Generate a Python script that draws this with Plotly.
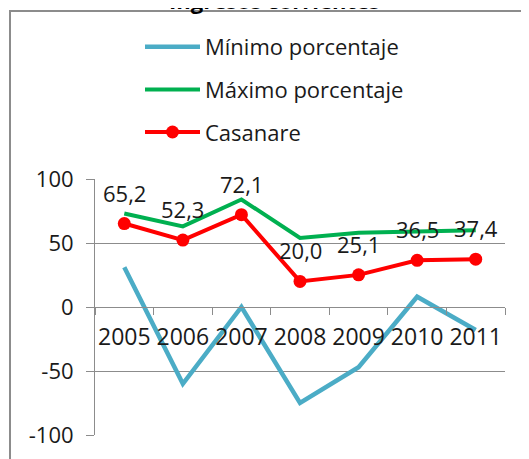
import plotly.graph_objects as go

years = ["2005", "2006", "2007", "2008", "2009", "2010", "2011"]
minimo = [31, -60, 0, -75, -47, 8, -18]
maximo = [73, 63, 84, 54, 58, 59, 60]
casanare = [65.2, 52.3, 72.1, 20.0, 25.1, 36.5, 37.4]
casanare_labels = ["65,2", "52,3", "72,1", "20,0", "25,1", "36,5", "37,4"]
ytick_vals = [-100, -50, 0, 50, 100]
ytick_text = ["-100", "-50", "0", "50", "100"]

FONT = "Open Sans"
GRID = "#8c8c8c"
TXT = "#1a1a1a"


def px(x):
    return (x - 95) / 410


def py(y):
    return (435 - y) / 256


fig = go.Figure()
fig.add_trace(go.Scatter(x=years, y=minimo, mode="lines", name="Mínimo porcentaje",
                         line=dict(color="#4BACC6", width=4.5), legendgroup="a"))
fig.add_trace(go.Scatter(x=years, y=maximo, mode="lines", name="Máximo porcentaje",
                         line=dict(color="#00B050", width=4), legendgroup="b"))
fig.add_trace(go.Scatter(x=years, y=casanare, mode="lines+markers", name="Casanare",
                         line=dict(color="#FF0000", width=4),
                         marker=dict(size=13, color="#FF0000"), legendgroup="c"))

for i, (y, t) in enumerate(zip(casanare, casanare_labels)):
    fig.add_annotation(x=i, y=y, text=t, showarrow=False, yshift=31,
                       font=dict(family=FONT, size=22, color=TXT))

fig.add_annotation(xref="paper", yref="paper", x=px(274), y=py(17),
                   text="<b>Ingresos corrientes</b>", showarrow=False, yanchor="bottom",
                   font=dict(family=FONT, size=22, color="#000000"))

fig.add_shape(type="rect", xref="paper", yref="paper",
              x0=px(10), x1=px(560), y0=py(490), y1=py(11),
              line=dict(color="#8c8c8c", width=2), fillcolor="rgba(0,0,0,0)", layer="below")

fig.update_layout(
    width=529, height=459,
    margin=dict(l=87, r=32, t=171, b=32, autoexpand=False),
    paper_bgcolor="white", plot_bgcolor="white",
    font=dict(family=FONT, size=22, color=TXT),
    showlegend=True,
    legend=dict(x=px(140), y=py(26), xanchor="left", yanchor="top",
                font=dict(family=FONT, size=22, color=TXT),
                itemwidth=55, tracegroupgap=11, bgcolor="rgba(0,0,0,0)"),
    xaxis=dict(type="category", anchor="free", position=0.5, showline=True,
               linecolor=GRID, linewidth=1, ticks="outside", ticklen=7, tickcolor=GRID,
               tickson="boundaries", showgrid=False, range=[-0.5, 6.5], tickangle=0,
               automargin=False, ticklabelstandoff=9,
               tickfont=dict(family=FONT, size=23, color=TXT)),
    yaxis=dict(range=[-100, 100], tickvals=ytick_vals, ticktext=ytick_text,
               showline=True, linecolor=GRID, linewidth=1, ticks="outside", ticklen=8,
               tickcolor=GRID, showgrid=True, gridcolor=GRID, gridwidth=1,
               zeroline=False, ticklabelstandoff=8, automargin=False,
               tickfont=dict(family=FONT, size=22, color=TXT)),
)

fig.write_html("out.html")
